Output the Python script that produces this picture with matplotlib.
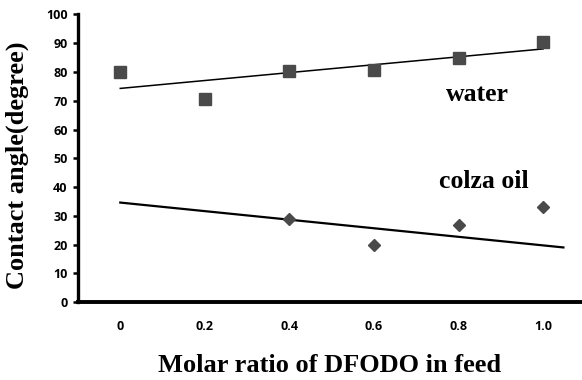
import numpy as np
import matplotlib
matplotlib.use('Agg')
import matplotlib.pyplot as plt

# data
X_LABELS = ['0', '0.2', '0.4', '0.6', '0.8', '1.0']
WATER = [80.0, 70.6, 80.2, 80.6, 85.0, 90.5]
OIL_POS = [3, 4, 5, 6]
OIL = [28.9, 19.8, 26.7, 33.1]
# hand-drawn looking trend line for colza oil (endpoints)
OIL_LINE_X = [1.0, 6.24]
OIL_LINE_Y = [34.6, 19.0]

SERIF = ['Liberation Serif', 'DejaVu Serif']
MARK = '#4a4a4a'

fig = plt.figure(figsize=(5.82, 3.80), dpi=100)
ax = fig.add_axes([0.134, 0.205, 0.866, 0.757])

pos = np.arange(1, len(X_LABELS) + 1)
ax.plot(pos, WATER, 's', color=MARK, ms=8.5, zorder=4)
slope, icpt = np.polyfit(pos, WATER, 1)
ax.plot(pos, slope * pos + icpt, color='black', lw=1.1, zorder=3)

ax.plot(OIL_POS, OIL, 'D', color=MARK, ms=6.5, zorder=4)
ax.plot(OIL_LINE_X, OIL_LINE_Y, color='black', lw=1.6, zorder=3)

ax.text(5.22, 72, 'water', family=SERIF, fontweight='bold',
        fontsize=18.5, ha='center', va='center')
ax.text(5.3, 42, 'colza oil', family=SERIF, fontweight='bold',
        fontsize=18.5, ha='center', va='center')

ax.set_xlim(0.5, 6.46)
ax.set_ylim(0, 100)
ax.set_yticks(range(0, 101, 10))
ax.set_xticks(pos)
ax.set_xticklabels(X_LABELS)

for s in ('top', 'right'):
    ax.spines[s].set_visible(False)
ax.spines['left'].set_linewidth(2.4)
ax.spines['bottom'].set_linewidth(2.8)

ax.tick_params(axis='x', length=0, pad=13)
ax.tick_params(axis='y', length=3.5, width=1.8, pad=4, direction='out')
for lab in ax.get_xticklabels() + ax.get_yticklabels():
    lab.set_fontweight('bold')
    lab.set_fontsize(9)
    lab.set_family(['Open Sans', 'DejaVu Sans'])

ax.set_xlabel('Molar ratio of DFODO in feed', family=SERIF,
              fontweight='bold', fontsize=19, labelpad=15)
fig.text(0.030, 0.565, 'Contact angle(degree)', family=SERIF,
         fontweight='bold', fontsize=19, rotation=90,
         ha='center', va='center')

fig.savefig('out.png', dpi=100)
